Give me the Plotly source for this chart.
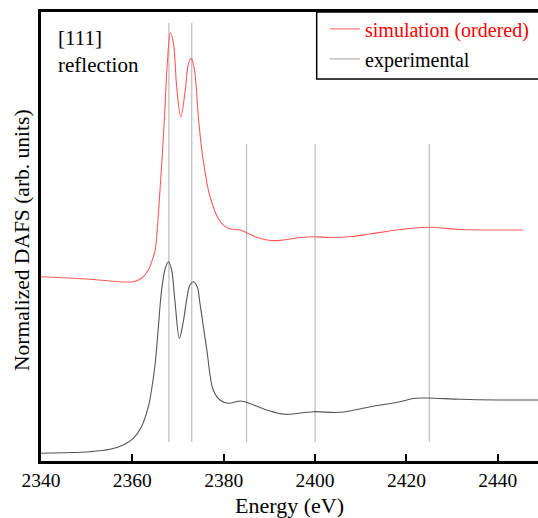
import plotly.graph_objects as go

# ---- data (energy in eV, intensity in arbitrary units) ----
sim_energy = [2340.0, 2346.0, 2350.7, 2355.1, 2360.2, 2362.0, 2363.5, 2364.6, 2365.0, 2366.1,
              2367.0, 2367.7, 2368.3, 2369.0, 2369.7, 2370.6, 2371.5, 2372.3, 2372.9, 2373.6,
              2374.5, 2375.5, 2377.0, 2379.0, 2381.0, 2383.6, 2385.0, 2387.2, 2390.2, 2393.1,
              2396.7, 2399.6, 2403.3, 2408.0, 2412.0, 2418.6, 2424.8, 2431.8, 2440.0, 2445.6]
sim_value = [184.3, 183.0, 181.7, 180.0, 179.3, 182.7, 191.0, 204.3, 211.0, 274.3,
             341.0, 401.0, 428.3, 417.7, 374.3, 344.3, 367.7, 397.7, 402.7, 391.0,
             341.0, 301.0, 264.3, 241.0, 232.7, 231.0, 228.3, 223.7, 220.5, 221.0,
             223.5, 224.3, 223.5, 224.5, 227.0, 231.5, 233.7, 231.5, 231.0, 231.0]

exp_energy = [2340.0, 2345.0, 2350.7, 2355.1, 2358.0, 2360.2, 2362.0, 2363.5, 2364.2, 2365.0,
              2365.7, 2366.4, 2367.2, 2367.9, 2368.6, 2369.3, 2370.3, 2371.1, 2372.0, 2372.6,
              2373.4, 2374.2, 2374.8, 2376.3, 2377.7, 2379.2, 2381.0, 2383.6, 2384.8, 2389.4,
              2393.4, 2399.6, 2405.5, 2412.1, 2418.6, 2421.9, 2424.8, 2431.8, 2440.0, 2448.8]
exp_value = [7.7, 8.3, 9.3, 11.7, 16.0, 22.7, 34.3, 54.3, 71.0, 97.7,
             134.3, 171.0, 192.7, 199.3, 191.0, 161.0, 122.7, 138.0, 164.3, 176.0,
             179.3, 174.3, 157.7, 111.0, 71.0, 61.0, 57.7, 60.0, 59.0, 51.0,
             46.7, 49.3, 48.7, 54.3, 59.3, 62.7, 63.0, 61.7, 61.0, 61.0]

marker_energy = [2368, 2373, 2385, 2400, 2425]
marker_top = [438, 438, 317, 317, 317]
marker_bottom = 19

x_ticks = [2340, 2360, 2380, 2400, 2420, 2440]

FONT = "Liberation Serif"

fig = go.Figure()

# vertical reference lines
for e, t in zip(marker_energy, marker_top):
    fig.add_trace(go.Scatter(x=[e, e], y=[marker_bottom, t], mode="lines",
                             line=dict(color="#bdbdbd", width=1.2),
                             showlegend=False, hoverinfo="skip"))

fig.add_trace(go.Scatter(x=sim_energy, y=sim_value, mode="lines",
                         line=dict(color="#ff5a5a", width=1.1, shape="spline", smoothing=1.0),
                         showlegend=False))
fig.add_trace(go.Scatter(x=exp_energy, y=exp_value, mode="lines",
                         line=dict(color="#555555", width=1.1, shape="spline", smoothing=1.0),
                         showlegend=False))

# legend entries
fig.add_trace(go.Scatter(x=[None], y=[None], mode="lines", legendgroup="a",
                         line=dict(color="#ff8080", width=1.2),
                         name="<span style='color:#ff0000'>simulation (ordered)</span>"))
fig.add_trace(go.Scatter(x=[None], y=[None], mode="lines", legendgroup="b",
                         line=dict(color="#b0b0b0", width=1.2),
                         name="experimental"))

# legend box (frame)
fig.add_shape(type="rect", xref="paper", yref="paper",
              x0=(316.7 - 41) / 497, x1=1.02, y0=(461 - 79) / 449, y1=1.0,
              line=dict(color="black", width=1.5), fillcolor="white", layer="above")

fig.add_annotation(text="[111]<br>reflection", xref="paper", yref="paper",
                   x=(56 - 41) / 497, y=(461 - 51) / 449, xanchor="left", yanchor="middle",
                   align="left", showarrow=False,
                   font=dict(family=FONT, size=21, color="black"))

fig.add_annotation(text="Normalized DAFS (arb. units)", xref="paper", yref="paper",
                   x=(22 - 41) / 497, y=(461 - 240) / 449, xanchor="center", yanchor="middle",
                   textangle=-90, showarrow=False,
                   font=dict(family=FONT, size=21.5, color="black"))

fig.update_layout(
    width=538, height=518,
    margin=dict(l=41, r=0, t=12, b=57),
    paper_bgcolor="white", plot_bgcolor="white",
    font=dict(family=FONT, size=20, color="black"),
    showlegend=True,
    legend=dict(x=(325 - 41) / 497, y=1.006, xanchor="left", yanchor="top",
                bgcolor="rgba(0,0,0,0)", borderwidth=0,
                font=dict(family=FONT, size=20, color="black"),
                itemwidth=30, tracegroupgap=1),
    xaxis=dict(range=[2340, 2448.8], tickvals=x_ticks, ticks="inside", ticklen=7,
               tickwidth=2, tickcolor="black", showline=True, linecolor="black",
               linewidth=2.5, mirror=True, showgrid=False, zeroline=False,
               tickfont=dict(family=FONT, size=19.5, color="black"),
               title=dict(text="Energy (eV)", font=dict(family=FONT, size=22, color="black"),
                          standoff=9)),
    yaxis=dict(range=[0, 449], showticklabels=False, ticks="", showline=True,
               linecolor="black", linewidth=2.5, showgrid=False, zeroline=False),
)

fig.write_html("out.html")
